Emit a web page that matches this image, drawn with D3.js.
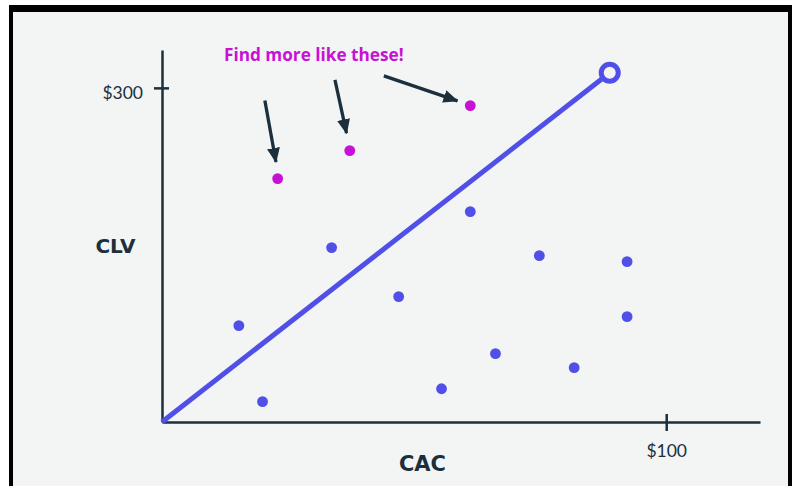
<!DOCTYPE html>
<html><head><meta charset="utf-8">
<script src="https://cdn.jsdelivr.net/npm/d3@7"></script>
<style>html,body{margin:0;padding:0;background:#fff;}svg{display:block;}</style>
</head><body><svg id="c" width="792" height="486"></svg>
<script>
// Data (CAC in $, CLV in $)
const regularCAC = [15.1, 19.8, 33.5, 46.8, 55.3, 61.0, 66.0, 74.7, 81.6, 92.1, 92.1];
const regularCLV = [87.1, 18.9, 157.2, 113.2, 30.5, 189.5, 62.0, 150.0, 49.4, 144.6, 95.2];
const highlightCAC = [22.8, 37.1, 61.0];
const highlightCLV = [219.2, 244.3, 284.7];
const trendCAC = [0, 88.8];
const trendCLV = [0, 313.5];
const xTicks = [100];
const yTicks = [300];
const xTickLabels = ["$100"];
const yTickLabels = ["$300"];
const arrowFromCAC = [20.4, 34.3, 44.0];
const arrowFromCLV = [288.6, 307.2, 310.8];
const arrowToCAC = [22.6, 36.6, 58.6];
const arrowToCLV = [233.5, 259.3, 288.3];
const annotation = "Find more like these!";
const xTitle = "CAC", yTitle = "CLV";

const svg = d3.select("#c");
const dark = "#1b2f3c", blue = "#5050e8", magenta = "#c612d4";

// frame
svg.append("rect").attr("x",0).attr("y",0).attr("width",792).attr("height",486).attr("fill","#fff");
svg.append("rect").attr("x",9).attr("y",5).attr("width",783).attr("height",490).attr("fill","#000");
svg.append("rect").attr("x",13).attr("y",12).attr("width",775).attr("height",480).attr("fill","#f3f4f4");

const x = d3.scaleLinear().domain([0, 118.6]).range([162, 760]);
const y = d3.scaleLinear().domain([0, 334]).range([422, 50]);

// x axis
const gx = svg.append("g").attr("transform","translate(0,422)")
  .call(d3.axisBottom(x).tickValues(xTicks).tickFormat((d,i)=>xTickLabels[i]).tickSizeOuter(0).tickSizeInner(9).tickPadding(14));
gx.select(".domain").attr("stroke",dark).attr("stroke-width",2.5);
gx.selectAll(".tick line").attr("stroke",dark).attr("stroke-width",2.5).attr("y1",-8).attr("y2",9);
gx.selectAll(".tick text").attr("fill",dark).attr("font-family","Lato").attr("font-size",17.5);

// y axis
const gy = svg.append("g").attr("transform","translate(162,0)")
  .call(d3.axisLeft(y).tickValues(yTicks).tickFormat((d,i)=>yTickLabels[i]).tickSizeOuter(0).tickSizeInner(8).tickPadding(11));
gy.select(".domain").attr("stroke",dark).attr("stroke-width",2.5);
gy.selectAll(".tick line").attr("stroke",dark).attr("stroke-width",2.5).attr("x1",-8).attr("x2",7);
gy.selectAll(".tick text").attr("fill",dark).attr("font-family","Lato").attr("font-size",17.5).attr("dy","0.62em");

// trend line
svg.append("line").attr("x1",x(trendCAC[0])).attr("y1",y(trendCLV[0]))
  .attr("x2",x(trendCAC[1])).attr("y2",y(trendCLV[1]))
  .attr("stroke",blue).attr("stroke-width",5);
svg.append("circle").attr("cx",x(trendCAC[1])).attr("cy",y(trendCLV[1])).attr("r",8.5)
  .attr("fill","#f3f4f4").attr("stroke",blue).attr("stroke-width",5);

// points
svg.append("g").selectAll("circle").data(regularCAC).join("circle")
  .attr("cx",d=>x(d)+0.7).attr("cy",(d,i)=>y(regularCLV[i])+0.7).attr("r",5.4).attr("fill",blue);
svg.append("g").selectAll("circle").data(highlightCAC).join("circle")
  .attr("cx",d=>x(d)+0.7).attr("cy",(d,i)=>y(highlightCLV[i])+0.7).attr("r",5.4).attr("fill",magenta);

// arrows
svg.append("defs").append("marker").attr("id","ah").attr("markerUnits","userSpaceOnUse")
  .attr("viewBox","0 0 15 13").attr("refX",14).attr("refY",6.5)
  .attr("markerWidth",15).attr("markerHeight",13).attr("orient","auto")
  .append("path").attr("d","M0,0 L15,6.5 L0,13 Z").attr("fill",dark);
svg.append("g").selectAll("line").data(arrowFromCAC).join("line")
  .attr("x1",d=>x(d)).attr("y1",(d,i)=>y(arrowFromCLV[i]))
  .attr("x2",(d,i)=>x(arrowToCAC[i])).attr("y2",(d,i)=>y(arrowToCLV[i]))
  .attr("stroke",dark).attr("stroke-width",3.3).attr("marker-end","url(#ah)");

// annotation
svg.append("text").attr("x",224).attr("y",60.5).text(annotation)
  .attr("fill",magenta).attr("font-family","Open Sans").attr("font-weight",700).attr("font-size",17.2);

// axis titles
svg.append("text").attr("x",115.5).attr("y",252.5).attr("text-anchor","middle").text(yTitle)
  .attr("fill",dark).attr("font-family","DejaVu Sans").attr("font-weight",700).attr("font-size",20);
svg.append("text").attr("x",422.5).attr("y",471).attr("text-anchor","middle").text(xTitle)
  .attr("fill",dark).attr("font-family","DejaVu Sans").attr("font-weight",700).attr("font-size",21);
</script></body></html>
